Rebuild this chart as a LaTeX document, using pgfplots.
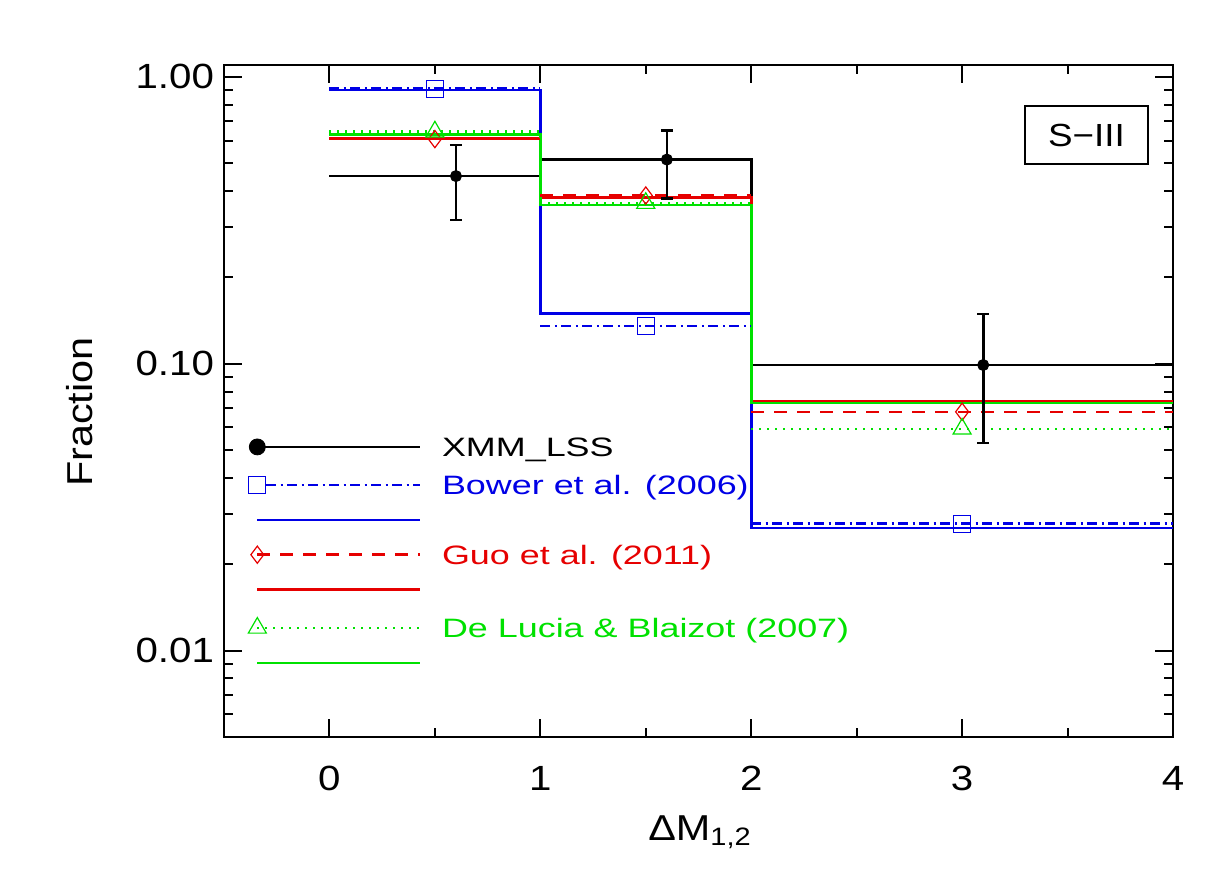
\documentclass[border=0pt]{standalone}
\usepackage{fontspec}
\setmainfont{Liberation Sans}[FakeStretch=1.15]
\newfontfamily\legfont{Liberation Sans}[FakeStretch=1.35]
\usepackage{pgfplots}
\pgfplotsset{compat=1.18}
\definecolor{cblue}{RGB}{0,0,230}
\definecolor{cred}{RGB}{230,0,0}
\definecolor{cgreen}{RGB}{0,225,0}
\tikzset{
  dashdotb/.style={dash pattern=on 5pt off 2.25pt on 1pt off 2.25pt},
  dashr/.style={dash pattern=on 6.5pt off 5pt},
  dotg/.style={dash pattern=on 1pt off 3pt},
  legtext/.style={anchor=base west, inner sep=0pt, yshift=-4.76pt, font=\legfont\fontsize{13.3}{16}\selectfont}
}
\begin{document}
\begin{tikzpicture}
\useasboundingbox (-112pt,-71.5pt) rectangle (499.5pt,368.5pt);
\begin{axis}[
  at={(0,0)}, anchor=south west,
  scale only axis, width=474.5pt, height=336pt,
  xmin=-0.5, xmax=4, ymode=log, ymin=0.005, ymax=1.1,
  xtick={0,1,2,3,4}, xticklabels={0,1,2,3,4},
  minor xtick={0.5,1.5,2.5,3.5},
  ytick={0.01,0.1,1}, yticklabels={0.01,0.10,1.00},
  minor ytick={0.005,0.006,0.007,0.008,0.009,0.02,0.03,0.04,0.05,0.06,0.07,0.08,0.09,0.2,0.3,0.4,0.5,0.6,0.7,0.8,0.9},
  tick pos=both, tick align=inside,
  major tick length=9pt, minor tick length=4.5pt,
  every tick/.style={black, line width=1pt},
  axis line style={line width=1pt},
  tick label style={font=\fontsize{17.5}{20}\selectfont},
  xticklabel style={yshift=-11pt},
  yticklabel style={xshift=-1.5pt},
  xlabel={ΔM\textsubscript{1,2}}, ylabel={Fraction},
  label style={font=\fontsize{18}{21}\selectfont},
  xlabel style={at={(axis description cs:0.5016,0)}, anchor=base, yshift=-51.5pt},
  ylabel style={at={(axis description cs:-0.1517,0.4836)}, anchor=center},
]
% step histograms (solid)
\addplot[black, line width=1.3pt, const plot] coordinates {(0,0.451)(1,0.515)(2,0.099)(4,0.099)};
\addplot[cblue, line width=1.3pt, const plot] coordinates {(0,0.900)(1,0.150)(2,0.0268)(4,0.0268)};
\addplot[cred, line width=1.3pt, const plot] coordinates {(0,0.611)(1,0.379)(2,0.0742)(4,0.0742)};
\addplot[cgreen, line width=1.3pt, const plot] coordinates {(0,0.631)(1,0.358)(2,0.073)(4,0.073)};
% Bower dash-dot
\addplot[cblue, line width=1.3pt, dashdotb] coordinates {(0,0.909)(1,0.909)};
\addplot[cblue, line width=1.3pt, dashdotb] coordinates {(1,0.1355)(2,0.1355)};
\addplot[cblue, line width=1.3pt, dashdotb] coordinates {(2,0.0277)(4,0.0277)};
% Guo dashed
\addplot[cred, line width=1.3pt, dashr] coordinates {(0,0.607)(1,0.607)};
\addplot[cred, line width=1.3pt, dashr] coordinates {(1,0.386)(2,0.386)};
\addplot[cred, line width=1.3pt, dashr] coordinates {(2,0.068)(4,0.068)};
% De Lucia dotted
\addplot[cgreen, line width=1.3pt, dotg] coordinates {(0,0.644)(1,0.644)};
\addplot[cgreen, line width=1.3pt, dotg] coordinates {(1,0.363)(2,0.363)};
\addplot[cgreen, line width=1.3pt, dotg] coordinates {(2,0.0593)(4,0.0593)};
% model markers
\addplot[cblue, only marks, mark=square, mark size=4.25pt, mark options={line width=0.6pt}] coordinates {(0.5,0.909)(1.5,0.1355)(3,0.0277)};
\addplot[cred, only marks, mark=diamond, mark size=4.3pt, mark options={line width=0.6pt}] coordinates {(0.5,0.607)(1.5,0.386)(3,0.068)};
\addplot[cgreen, only marks, mark=triangle, mark size=5.2pt, mark options={line width=0.6pt}] coordinates {(0.5,0.644)(1.5,0.363)(3,0.0593)};
% XMM_LSS data with error bars
\addplot[black, only marks, mark=*, mark size=2.8pt,
  error bars/.cd, y dir=both, y explicit,
  error bar style={line width=1.3pt},
  error mark options={rotate=90, mark size=3pt, line width=1.3pt}]
  coordinates {
  (0.6,0.451) += (0,0.128) -= (0,0.134)
  (1.6,0.515) += (0,0.135) -= (0,0.139)
  (3.1,0.099) += (0,0.050) -= (0,0.046)
  };
% legend
\addplot[black, line width=1.3pt] coordinates {(-0.342,0.0513)(0.428,0.0513)};
\addplot[black, only marks, mark=*, mark size=4pt] coordinates {(-0.342,0.0513)};
\addplot[cblue, line width=1.3pt, dashdotb] coordinates {(-0.30,0.0378)(0.428,0.0378)};
\addplot[cblue, only marks, mark=square, mark size=4.25pt, mark options={line width=0.6pt}] coordinates {(-0.342,0.0378)};
\addplot[cblue, line width=1.3pt] coordinates {(-0.342,0.02856)(0.428,0.02856)};
\addplot[cred, line width=1.3pt, dashr] coordinates {(-0.342,0.0216)(0.428,0.0216)};
\addplot[cred, only marks, mark=diamond, mark size=4.3pt, mark options={line width=0.6pt}] coordinates {(-0.342,0.0216)};
\addplot[cred, line width=1.3pt] coordinates {(-0.342,0.0163)(0.428,0.0163)};
\addplot[cgreen, line width=1.3pt, dotg] coordinates {(-0.342,0.0120)(0.428,0.0120)};
\addplot[cgreen, only marks, mark=triangle, mark size=5.2pt, mark options={line width=0.6pt}] coordinates {(-0.342,0.0120)};
\addplot[cgreen, line width=1.3pt] coordinates {(-0.342,0.00906)(0.428,0.00906)};
\node[legtext, text=black] at (axis cs:0.532,0.0513) {XMM\_LSS};
\node[legtext, text=cblue] at (axis cs:0.532,0.0378) {Bower et al. (2006)};
\node[legtext, text=cred] at (axis cs:0.532,0.0216) {Guo et al. (2011)};
\node[legtext, text=cgreen] at (axis cs:0.532,0.0120) {De Lucia \& Blaizot (2007)};
% panel label
\node[draw, line width=0.8pt, minimum width=61.5pt, minimum height=29pt, inner sep=0pt, font=\fontsize{16}{19}\selectfont] at (axis cs:3.59,0.627) {S−III};
\end{axis}
\end{tikzpicture}
\end{document}
